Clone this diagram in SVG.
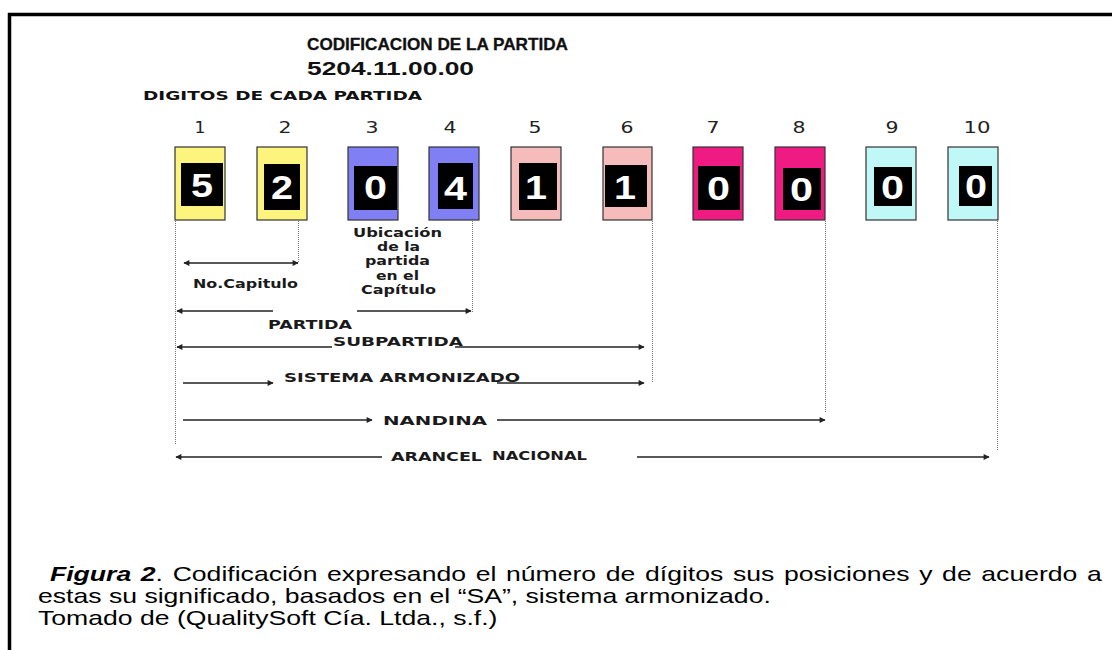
<svg xmlns="http://www.w3.org/2000/svg" width="1112" height="650" viewBox="0 0 1112 650">
<defs>
<marker id="ah" viewBox="0 0 10 10" refX="9" refY="5" markerWidth="8" markerHeight="6" markerUnits="userSpaceOnUse" orient="auto-start-reverse">
<path d="M0,0 L10,5 L0,10 z" fill="#222"/>
</marker>
<style>
.title{font-family:"Liberation Sans",Arial,sans-serif;font-weight:bold;fill:#111}
.num{font-family:"DejaVu Sans",Verdana,sans-serif;font-size:16.5px;fill:#222}
.box{stroke:#333;stroke-width:1.2}
.blk{fill:#000}
.dig{font-family:"Liberation Sans",Arial,sans-serif;font-weight:bold;font-size:33px;fill:#fff}
.lbl{font-family:"DejaVu Sans",Verdana,sans-serif;font-weight:bold;font-size:12.5px;fill:#1a1a1a}
.ub{font-family:"DejaVu Sans",Verdana,sans-serif;font-weight:bold;font-size:12px;fill:#1a1a1a}
.dot{stroke:#777;stroke-width:1;stroke-dasharray:1 1;fill:none}
.ln{stroke:#222;stroke-width:1.4;fill:none}
.cap{font-family:"Liberation Sans",Arial,sans-serif;font-size:20px;fill:#000}
</style>
</defs>
<rect x="0" y="0" width="1112" height="650" fill="#fff"/>
<path d="M9.5,660 V14.5 H1120" fill="none" stroke="#000" stroke-width="3.5"/>

<text class="title" x="307" y="50" font-size="16.5" textLength="261" lengthAdjust="spacingAndGlyphs" stroke="#111" stroke-width="0.3">CODIFICACION DE LA PARTIDA</text>
<text class="title" x="307" y="75" font-size="17.5" textLength="167" lengthAdjust="spacingAndGlyphs">5204.11.00.00</text>
<text class="title" x="143" y="100" font-size="13" textLength="279" lengthAdjust="spacingAndGlyphs" style="font-family:'DejaVu Sans',Verdana,sans-serif">DIGITOS DE CADA PARTIDA</text>

<g id="d1"><text class="num" x="194.5" y="133" textLength="11" lengthAdjust="spacingAndGlyphs">1</text><rect class="box" x="175" y="147" width="50" height="73" fill="#fcf47c"/><rect class="blk" x="181" y="163" width="42" height="43"/><text class="dig" x="191" y="197" textLength="22" lengthAdjust="spacingAndGlyphs">5</text></g>
<g id="d2"><text class="num" x="278.5" y="133" textLength="13" lengthAdjust="spacingAndGlyphs">2</text><rect class="box" x="257" y="147" width="50" height="73" fill="#fcf47c"/><rect class="blk" x="264" y="164" width="36" height="46"/><text class="dig" x="271" y="199" textLength="22" lengthAdjust="spacingAndGlyphs">2</text></g>
<g id="d3"><text class="num" x="365.5" y="133" textLength="13" lengthAdjust="spacingAndGlyphs">3</text><rect class="box" x="348" y="147" width="50" height="73" fill="#8080f4"/><rect class="blk" x="354" y="166" width="43" height="44"/><text class="dig" x="364" y="199" textLength="23" lengthAdjust="spacingAndGlyphs">0</text></g>
<g id="d4"><text class="num" x="443.5" y="133" textLength="13" lengthAdjust="spacingAndGlyphs">4</text><rect class="box" x="429" y="147" width="50" height="73" fill="#8080f4"/><rect class="blk" x="438" y="163" width="35" height="46"/><text class="dig" x="444" y="200" textLength="23" lengthAdjust="spacingAndGlyphs">4</text></g>
<g id="d5"><text class="num" x="528.5" y="133" textLength="13" lengthAdjust="spacingAndGlyphs">5</text><rect class="box" x="511" y="147" width="50" height="73" fill="#f6bcbc"/><rect class="blk" x="519" y="163" width="38" height="47"/><text class="dig" x="525" y="199" textLength="22" lengthAdjust="spacingAndGlyphs">1</text></g>
<g id="d6"><text class="num" x="620.5" y="133" textLength="13" lengthAdjust="spacingAndGlyphs">6</text><rect class="box" x="603" y="147" width="49" height="73" fill="#f6bcbc"/><rect class="blk" x="605" y="165" width="42" height="42"/><text class="dig" x="614" y="199" textLength="22" lengthAdjust="spacingAndGlyphs">1</text></g>
<g id="d7"><text class="num" x="706.5" y="133" textLength="13" lengthAdjust="spacingAndGlyphs">7</text><rect class="box" x="693" y="147" width="50" height="73" fill="#ef1a82"/><rect class="blk" x="698" y="166" width="42" height="44"/><text class="dig" x="707" y="200" textLength="23" lengthAdjust="spacingAndGlyphs">0</text></g>
<g id="d8"><text class="num" x="792.5" y="133" textLength="13" lengthAdjust="spacingAndGlyphs">8</text><rect class="box" x="775" y="147" width="50" height="73" fill="#ef1a82"/><rect class="blk" x="783" y="168" width="38" height="42"/><text class="dig" x="790" y="201" textLength="23" lengthAdjust="spacingAndGlyphs">0</text></g>
<g id="d9"><text class="num" x="885.5" y="133" textLength="13" lengthAdjust="spacingAndGlyphs">9</text><rect class="box" x="866" y="147" width="50" height="73" fill="#c0f8f8"/><rect class="blk" x="874" y="167" width="38" height="39"/><text class="dig" x="881" y="199" textLength="23" lengthAdjust="spacingAndGlyphs">0</text></g>
<g id="d10"><text class="num" x="963.5" y="133" textLength="27" lengthAdjust="spacingAndGlyphs">10</text><rect class="box" x="948" y="147" width="50" height="73" fill="#c0f8f8"/><rect class="blk" x="959" y="166" width="33" height="40"/><text class="dig" x="965" y="198" textLength="22" lengthAdjust="spacingAndGlyphs">0</text></g>

<g id="connectors">
<line class="dot" x1="175.5" y1="221" x2="175.5" y2="444"/>
<line class="dot" x1="298.5" y1="221" x2="298.5" y2="263"/>
<line class="dot" x1="472.5" y1="221" x2="472.5" y2="312"/>
<line class="dot" x1="652.5" y1="221" x2="652.5" y2="383"/>
<line class="dot" x1="825.5" y1="221" x2="825.5" y2="413"/>
<line class="dot" x1="997.5" y1="221" x2="997.5" y2="450"/>

<line class="ln" x1="184" y1="263" x2="298" y2="263" marker-start="url(#ah)" marker-end="url(#ah)"/>
<line class="ln" x1="273" y1="311" x2="177" y2="311" marker-end="url(#ah)"/>
<line class="ln" x1="357" y1="311" x2="471" y2="311" marker-end="url(#ah)"/>
<line class="ln" x1="332" y1="347" x2="177" y2="347" marker-end="url(#ah)"/>
<line class="ln" x1="455" y1="347" x2="644" y2="347" marker-end="url(#ah)"/>
<line class="ln" x1="183" y1="383" x2="273" y2="383" marker-end="url(#ah)"/>
<line class="ln" x1="497" y1="383" x2="644" y2="383" marker-end="url(#ah)"/>
<line class="ln" x1="183" y1="420" x2="372" y2="420" marker-end="url(#ah)"/>
<line class="ln" x1="497" y1="420" x2="825" y2="420" marker-end="url(#ah)"/>
<line class="ln" x1="382" y1="457" x2="176" y2="457" marker-end="url(#ah)"/>
<line class="ln" x1="637" y1="457" x2="989" y2="457" marker-end="url(#ah)"/>
</g>

<g id="labels">
<text class="lbl" x="193" y="288" textLength="105" lengthAdjust="spacingAndGlyphs">No.Capitulo</text>
<text class="ub" x="353" y="237" textLength="89" lengthAdjust="spacingAndGlyphs">Ubicación</text>
<text class="ub" x="377" y="251" textLength="43" lengthAdjust="spacingAndGlyphs">de la</text>
<text class="ub" x="365" y="265" textLength="65" lengthAdjust="spacingAndGlyphs">partida</text>
<text class="ub" x="376" y="280" textLength="43" lengthAdjust="spacingAndGlyphs">en el</text>
<text class="ub" x="361" y="294" textLength="75" lengthAdjust="spacingAndGlyphs">Capítulo</text>
<text class="lbl" x="268" y="329" textLength="84" lengthAdjust="spacingAndGlyphs">PARTIDA</text>
<text class="lbl" x="333" y="346" textLength="130" lengthAdjust="spacingAndGlyphs">SUBPARTIDA</text>
<text class="lbl" x="284" y="382" textLength="236" lengthAdjust="spacingAndGlyphs">SISTEMA ARMONIZADO</text>
<text class="lbl" x="383" y="425" textLength="104" lengthAdjust="spacingAndGlyphs">NANDINA</text>
<text class="lbl" x="391" y="461" textLength="91" lengthAdjust="spacingAndGlyphs">ARANCEL</text>
<text class="lbl" x="492" y="460" textLength="95" lengthAdjust="spacingAndGlyphs">NACIONAL</text>
</g>

<g id="caption" transform="translate(38 0) scale(1.33 1)">
<text class="cap" x="9" y="581" word-spacing="1.7"><tspan font-weight="bold" font-style="italic">Figura 2</tspan>. Codificación expresando el número de dígitos sus posiciones y de acuerdo a</text>
<text class="cap" x="0" y="603">estas su significado, basados en el “SA”, sistema armonizado.</text>
<text class="cap" x="0" y="625">Tomado de (QualitySoft Cía. Ltda., s.f.)</text>
</g>
</svg>
